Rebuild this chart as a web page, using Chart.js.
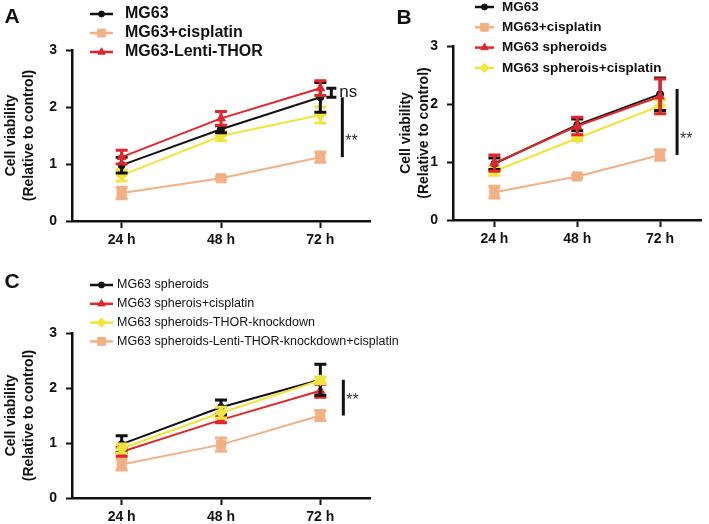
<!DOCTYPE html>
<html>
<head>
<meta charset="utf-8">
<script src="https://cdn.jsdelivr.net/npm/chart.js@4.4.1/dist/chart.umd.min.js"></script>
<style>
html, body { margin: 0; padding: 0; background: #fff; }
#wrap { position: relative; width: 709px; height: 524px; overflow: hidden; }
canvas { position: absolute; }
</style>
</head>
<body>
<div id="wrap">
  <canvas id="chartA" width="380" height="262" style="left:0;top:0"></canvas>
  <canvas id="chartB" width="354" height="262" style="left:355px;top:0"></canvas>
  <canvas id="chartC" width="420" height="269" style="left:0;top:255px"></canvas>
</div>
<script>
var timeLabels = ['24 h', '48 h', '72 h'];
var yTitle = ['Cell viability', '(Relative to control)'];

// panel A
var aMG63 = [0.98, 1.61, 2.17];
var aMG63Sd = [0.14, 0.06, 0.26];
var aCis = [0.49, 0.75, 1.12];
var aCisSd = [0.1, 0.03, 0.09];
var aThor = [1.12, 1.80, 2.33];
var aThorSd = [0.12, 0.12, 0.13];
var aYellow = [0.80, 1.49, 1.86];
var aYellowSd = [0.1, 0.08, 0.14];

// panel B
var bMG63 = [0.97, 1.64, 2.17];
var bMG63Sd = [0.1, 0.1, 0.28];
var bCis = [0.48, 0.75, 1.12];
var bCisSd = [0.1, 0.03, 0.09];
var bSph = [0.98, 1.62, 2.13];
var bSphSd = [0.14, 0.15, 0.3];
var bSphCis = [0.84, 1.41, 1.97];
var bSphCisSd = [0.07, 0.04, 0.1];

// panel C
var cSph = [0.98, 1.65, 2.15];
var cSphSd = [0.15, 0.13, 0.28];
var cSphCis = [0.84, 1.42, 1.95];
var cSphCisSd = [0.08, 0.05, 0.12];
var cKnock = [0.90, 1.55, 2.14];
var cKnockSd = [0.08, 0.1, 0.06];
var cKnockCis = [0.61, 0.97, 1.50];
var cKnockCisSd = [0.1, 0.12, 0.09];

var FONT = '"Liberation Sans", Arial, Helvetica, sans-serif';
Chart.defaults.font.family = FONT;
Chart.defaults.color = '#111';

var BLACK = { color: '#111111', shape: 'circle', size: 3.5 };
var TAN = { color: '#f2b184', shape: 'rect', size: 6.5 };
var RED = { color: '#e3262b', shape: 'triangle', size: 5 };
var YELLOW = { color: '#f1e53c', shape: 'rectRot', size: 5.5 };

function series(label, values, sd, st) {
    return {
        label: label,
        data: values,
        sd: sd,
        borderColor: st.color,
        backgroundColor: st.color,
        pointBackgroundColor: st.color,
        pointBorderColor: st.color,
        pointStyle: st.shape,
        pointRadius: st.size,
        pointBorderWidth: 1,
        borderWidth: 2,
        tension: 0
    };
}

// each dataset's error bars go down just before that dataset's line
var errorBarPlugin = {
    id: 'errorBars',
    beforeDatasetDraw: function (chart, args) {
        var ds = chart.data.datasets[args.index];
        if (!ds.sd) return;
        var ctx = chart.ctx;
        var y = chart.scales.y;
        ctx.save();
        ctx.strokeStyle = ds.borderColor;
        ctx.lineWidth = 3;
        args.meta.data.forEach(function (pt, i) {
            var top = y.getPixelForValue(ds.data[i] + ds.sd[i]);
            var bot = y.getPixelForValue(ds.data[i] - ds.sd[i]);
            ctx.beginPath();
            ctx.moveTo(pt.x, top); ctx.lineTo(pt.x, bot);
            ctx.moveTo(pt.x - 6, top); ctx.lineTo(pt.x + 6, top);
            ctx.moveTo(pt.x - 6, bot); ctx.lineTo(pt.x + 6, bot);
            ctx.stroke();
        });
        ctx.restore();
    }
};

// stacked legend, one row per series
var keyPlugin = {
    id: 'key',
    afterDraw: function (chart, args, opts) {
        var ctx = chart.ctx;
        for (var row = 0; row < opts.items.length; row++) {
            var ds = chart.data.datasets[opts.items[row]];
            var y = opts.y + row * opts.gap;
            ctx.save();
            ctx.strokeStyle = ds.borderColor;
            ctx.lineWidth = 2.5;
            ctx.beginPath();
            ctx.moveTo(opts.x, y);
            ctx.lineTo(opts.x + opts.len, y);
            ctx.stroke();
            ctx.fillStyle = ds.borderColor;
            ctx.lineWidth = 1;
            Chart.helpers.drawPoint(ctx, { pointStyle: ds.pointStyle, radius: ds.pointRadius * 0.85, borderWidth: 1, rotation: 0 }, opts.x + opts.len / 2, y);
            ctx.fillStyle = '#111';
            ctx.font = opts.font;
            ctx.textBaseline = 'middle';
            ctx.textAlign = 'left';
            ctx.fillText(ds.label, opts.textX, y);
            ctx.restore();
        }
    }
};

// panel letter, significance bars and ns bracket
var marksPlugin = {
    id: 'marks',
    afterDraw: function (chart, args, opts) {
        var ctx = chart.ctx;
        var xs = chart.scales.x, ys = chart.scales.y;
        var x72 = xs.getPixelForValue(2);
        ctx.save();
        ctx.fillStyle = '#111';
        ctx.font = 'bold 21px ' + FONT;
        ctx.textAlign = 'center';
        ctx.textBaseline = 'middle';
        ctx.fillText(opts.letter, opts.letterX, opts.letterY);

        ctx.strokeStyle = '#111';
        ctx.lineWidth = 3;
        var sx = x72 + opts.sig.dx;
        ctx.beginPath();
        ctx.moveTo(sx, ys.getPixelForValue(opts.sig.from));
        ctx.lineTo(sx, ys.getPixelForValue(opts.sig.to));
        ctx.stroke();
        ctx.fillStyle = '#333';
        ctx.font = '16px ' + FONT;
        ctx.textAlign = 'left';
        ctx.fillText('**', sx + 3, ys.getPixelForValue(opts.sig.at));

        if (opts.ns) {
            var nx = x72 + opts.ns.dx;
            var t = ys.getPixelForValue(opts.ns.from), b = ys.getPixelForValue(opts.ns.to);
            ctx.strokeStyle = '#111';
            ctx.beginPath();
            ctx.moveTo(nx, t); ctx.lineTo(nx, b);
            ctx.moveTo(nx - 5, t); ctx.lineTo(nx + 5, t);
            ctx.moveTo(nx - 5, b); ctx.lineTo(nx + 5, b);
            ctx.stroke();
            ctx.fillStyle = '#222';
            ctx.font = '17px ' + FONT;
            ctx.fillText('ns', nx + 8, (t + b) / 2);
        }
        ctx.restore();
    }
};

function buildChart(id, datasets, lay) {
    return new Chart(document.getElementById(id), {
        type: 'line',
        data: { labels: timeLabels, datasets: datasets },
        plugins: [errorBarPlugin, keyPlugin, marksPlugin],
        options: {
            responsive: false,
            animation: false,
            layout: { padding: { left: lay.left, top: lay.top, right: lay.right, bottom: lay.bottom } },
            plugins: {
                legend: { display: false },
                tooltip: { enabled: false },
                key: lay.key,
                marks: lay.marks
            },
            scales: {
                x: {
                    offset: true,
                    afterFit: function (s) { s.height = 26; },
                    ticks: { font: { size: 14, weight: 'bold' }, color: '#111', padding: 4 },
                    grid: { drawOnChartArea: false, offset: false, tickLength: 7, tickWidth: 2, tickColor: '#111' },
                    border: { color: '#111', width: 2.5 }
                },
                y: {
                    min: 0,
                    max: 3,
                    afterFit: function (s) { s.width = lay.yWidth; },
                    ticks: { stepSize: 1, font: { size: 14, weight: 'bold' }, color: '#111', padding: 9 },
                    grid: { drawOnChartArea: false, tickLength: 6, tickWidth: 2, tickColor: '#111' },
                    border: { color: '#111', width: 2.5 },
                    title: {
                        display: true,
                        text: yTitle,
                        font: { size: 14, weight: 'bold', lineHeight: 1.3 },
                        color: '#111',
                        padding: 0
                    }
                }
            }
        }
    });
}

buildChart('chartA', [
    series('MG63-Lenti-THOR', aThor, aThorSd, RED),
    series('MG63', aMG63, aMG63Sd, BLACK),
    series('', aYellow, aYellowSd, YELLOW),
    series('MG63+cisplatin', aCis, aCisSd, TAN)
], {
    left: 2, top: 50, right: 10, bottom: 15, yWidth: 70,
    key: { items: [1, 3, 0], x: 90, y: 14, gap: 19, len: 23, textX: 125, font: 'bold 16px ' + FONT },
    marks: {
        letter: 'A', letterX: 12, letterY: 17,
        sig: { dx: 22, from: aMG63[2], to: aCis[2], at: 1.4 },
        ns: { dx: 11, from: aThor[2], to: aMG63[2] }
    }
});

buildChart('chartB', [
    series('MG63 spheroids', bSph, bSphSd, RED),
    series('MG63', bMG63, bMG63Sd, BLACK),
    series('MG63 spherois+cisplatin', bSphCis, bSphCisSd, YELLOW),
    series('MG63+cisplatin', bCis, bCisSd, TAN)
], {
    left: 42, top: 46, right: 1, bottom: 16, yWidth: 56,
    key: { items: [1, 3, 0, 2], x: 120, y: 7, gap: 20.3, len: 19, textX: 147, font: 'bold 13.5px ' + FONT },
    marks: {
        letter: 'B', letterX: 49, letterY: 18,
        sig: { dx: 17, from: 2.26, to: bCis[2], at: 1.38 }
    }
});

buildChart('chartC', [
    series('MG63 spheroids-THOR-knockdown', cKnock, cKnockSd, YELLOW),
    series('MG63 spheroids', cSph, cSphSd, BLACK),
    series('MG63 spherois+cisplatin', cSphCis, cSphCisSd, RED),
    series('MG63 spheroids-Lenti-THOR-knockdown+cisplatin', cKnockCis, cKnockCisSd, TAN)
], {
    left: 2, top: 78, right: 50, bottom: 0, yWidth: 70,
    key: { items: [1, 2, 0, 3], x: 90, y: 30, gap: 18.8, len: 23, textX: 117, font: '12.5px ' + FONT },
    marks: {
        letter: 'C', letterX: 12, letterY: 27,
        sig: { dx: 23, from: cSph[2], to: cKnockCis[2], at: 1.78 }
    }
});
</script>
</body>
</html>
